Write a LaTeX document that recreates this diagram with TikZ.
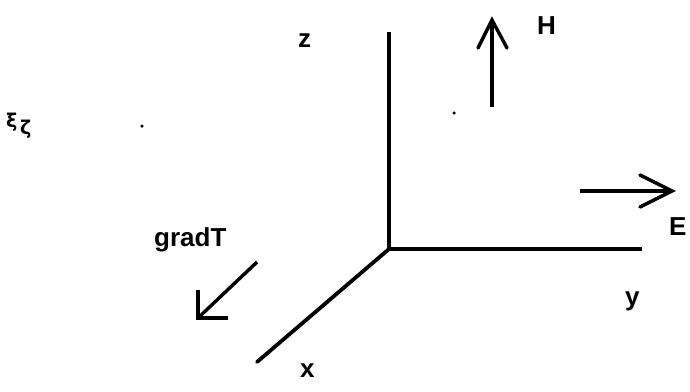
\documentclass[tikz,border=0pt]{standalone}
\usepackage{fontspec}
\setmainfont{Liberation Sans}
\newfontfamily\greekfont{DejaVu Sans}
\begin{document}
\begin{tikzpicture}[x=1pt,y=-1pt,
  axisline/.style={line width=3.3pt},
  vecline/.style={line width=3.4pt},
  lbl/.style={font=\fontsize{26}{28}\selectfont\bfseries, inner sep=0pt, anchor=base west},
  grk/.style={inner sep=0pt, anchor=north west, font=\greekfont\bfseries\fontsize{19}{20}\selectfont},
  speck/.style={circle, fill=black, inner sep=0pt, minimum size=3.5pt}]
\useasboundingbox (0,0) rectangle (690,391);
% axes
\coordinate (O) at (389,249);
\coordinate (zend) at (389,32);
\coordinate (yend) at (642,249);
\coordinate (xend) at (257,362);
\draw[axisline] (O) -- (zend);
\draw[axisline] (O) -- (yend);
\draw[axisline, line width=3.8pt, line cap=round] (O) -- (xend);
% H arrow
\coordinate (Hs) at (492,107);
\coordinate (Ht) at (492,20);
\coordinate (Ha) at (478,48);
\coordinate (Hb) at (507,48);
\draw[vecline] (Hs) -- (Ht);
\draw[vecline, line cap=round] (Ha) -- (Ht) -- (Hb);
% E arrow
\coordinate (Es) at (580,191);
\coordinate (Et) at (672,191);
\coordinate (Ea) at (640,175);
\coordinate (Eb) at (640,207);
\draw[vecline] (Es) -- (Et);
\draw[vecline, line cap=round] (Ea) -- (Et) -- (Eb);
% gradT arrow
\coordinate (Gs) at (257,262);
\coordinate (Gt) at (198,318);
\coordinate (Ga) at (198,290);
\coordinate (Gb) at (228,318);
\draw[vecline] (Gs) -- (Gt);
\draw[vecline] (Ga) -- (Gt) -- (Gb);
% labels
\node[lbl] (Hl) at (537,34) {H};
\node[lbl] (zl) at (298,47) {z};
\node[lbl] (El) at (669,235) {E};
\node[lbl] (yl) at (625,305) {y};
\node[lbl] (xl) at (300,377) {x};
\node[lbl] (gl) at (154,246) {gradT};
% specks
\node[speck] (d1) at (142,126) {};
\node[speck] (d2) at (454,113) {};
\node[grk] (gr1) at (6,113) {ξ};
\node[grk] (gr2) at (20,120) {ζ};
\end{tikzpicture}
\end{document}
